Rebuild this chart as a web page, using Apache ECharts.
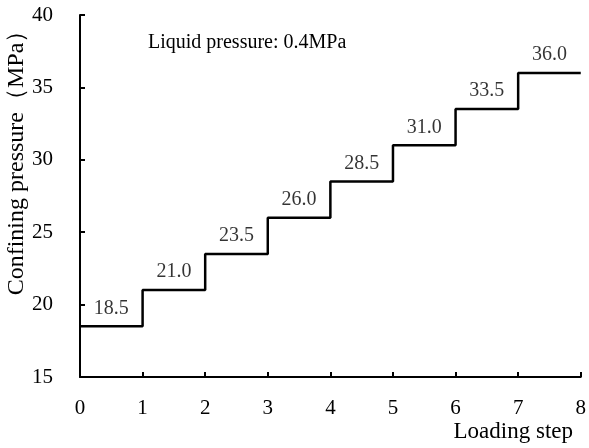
<!DOCTYPE html>
<html>
<head>
<meta charset="utf-8">
<script src="https://cdn.jsdelivr.net/npm/echarts@6/dist/echarts.min.js"></script>
<style>
  html, body { margin: 0; padding: 0; background: #fff; }
  #chart { width: 589px; height: 448px; }
</style>
</head>
<body>
<div id="chart"></div>
<script>
// Confining pressure held at each loading step
const steps = [1, 2, 3, 4, 5, 6, 7, 8];
const pressures = [18.5, 21.0, 23.5, 26.0, 28.5, 31.0, 33.5, 36.0];
const xTicks = [0, 1, 2, 3, 4, 5, 6, 7, 8];
const yTicks = [15, 20, 25, 30, 35, 40];
const annotation = 'Liquid pressure: 0.4MPa';
const xTitle = 'Loading step';
const yTitle = 'Confining pressure（MPa）';

const FONT = "'Liberation Serif', 'Times New Roman', serif";

// step i spans [i-1, i]; the last point closes the final step
const stepLine = steps.map((s, i) => [s - 1, pressures[i]]);
stepLine.push([steps[steps.length - 1], pressures[pressures.length - 1]]);
const labelPoints = steps.map((s, i) => [s - 0.5, pressures[i]]);

const chart = echarts.init(document.getElementById('chart'), null, { renderer: 'canvas' });
chart.setOption({
  animation: false,
  backgroundColor: '#fff',
  grid: { left: 80, right: 6, top: 15, bottom: 71 },
  xAxis: {
    type: 'value',
    min: xTicks[0], max: xTicks[xTicks.length - 1], interval: 1,
    axisLine: { lineStyle: { color: '#000', width: 2 } },
    axisTick: { inside: true, length: 5, lineStyle: { color: '#000', width: 2 } },
    axisLabel: { color: '#000', fontFamily: FONT, fontSize: 21, margin: 21 },
    splitLine: { show: false }
  },
  yAxis: {
    type: 'value',
    min: yTicks[0], max: yTicks[yTicks.length - 1], interval: 5,
    axisLine: { show: true, lineStyle: { color: '#000', width: 2 } },
    axisTick: { show: true, inside: true, length: 5, lineStyle: { color: '#000', width: 2 } },
    axisLabel: { color: '#000', fontFamily: FONT, fontSize: 21, margin: 27 },
    splitLine: { show: false }
  },
  graphic: [
    {
      type: 'text', left: 148, top: 33,
      style: { text: annotation, font: '20px ' + FONT, fill: '#000' }
    },
    {
      type: 'text', right: 16, top: 420,
      style: { text: xTitle, font: '23px ' + FONT, fill: '#000' }
    },
    {
      type: 'text', x: 17, y: 157, rotation: Math.PI / 2,
      style: { text: yTitle, font: '24px ' + FONT, fill: '#000', align: 'center', verticalAlign: 'middle' }
    }
  ],
  series: [
    {
      type: 'line',
      step: 'end',
      data: stepLine,
      symbol: 'none',
      lineStyle: { color: '#000', width: 2.5 }
    },
    {
      type: 'scatter',
      data: labelPoints,
      symbolSize: 0,
      label: {
        show: true, position: 'top', distance: 8,
        color: '#000', fontFamily: FONT, fontSize: 20,
        formatter: p => p.value[1].toFixed(1)
      }
    }
  ]
});
</script>
</body>
</html>
